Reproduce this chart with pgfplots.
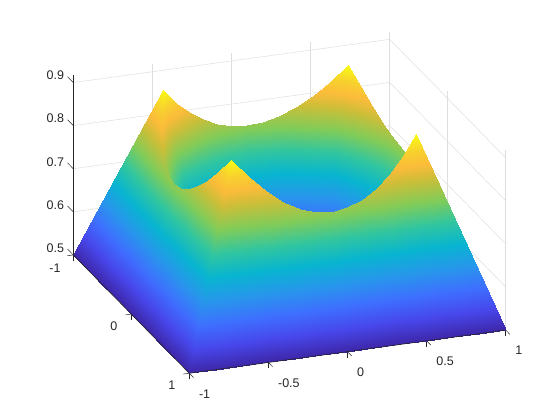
\documentclass[border=0pt]{standalone}
\usepackage{fontspec}
\setmainfont{Liberation Sans}
\usepackage{pgfplots}
\pgfplotsset{compat=1.18}
\definecolor{axisgray}{rgb}{0.15,0.15,0.15}
\definecolor{gridgray}{rgb}{0.87,0.87,0.87}
\pgfplotsset{colormap={parula}{rgb(0pt)=(.2422,.1504,.6603) rgb(111pt)=(.2803,.2782,.9221) rgb(222pt)=(.2440,.4358,.9988) rgb(333pt)=(.1540,.5902,.9218) rgb(444pt)=(.0297,.7082,.8163) rgb(556pt)=(.1938,.7758,.6251) rgb(667pt)=(.5044,.7993,.3480) rgb(778pt)=(.80,.745,.22) rgb(850pt)=(.985,.735,.23) rgb(920pt)=(.97,.82,.18) rgb(1000pt)=(.9769,.9839,.0805)}}
\begin{document}
\begin{tikzpicture}
\path[use as bounding box] (0,0) rectangle (560pt,420pt);
% y runs towards the viewer in the reference, so the y vector points away and the labels are flipped
\begin{axis}[anchor=origin,at={(289.5pt,127.5pt)},
x={(158.2pt,21.6pt)},y={(-58pt,59.15pt)},z={(0pt,431pt)},
xmin=-1,xmax=1,ymin=-1,ymax=1,zmin=0.5,zmax=0.918,
xtick={-1,-0.5,0,0.5,1},xticklabels={-1,-0.5,0,0.5,1},
ytick={-1,0,1},yticklabels={1,0,-1},
ztick={0.5,0.6,0.7,0.8,0.9},zticklabels={0.5,0.6,0.7,0.8,0.9},
tick label style={font=\fontsize{12.5}{14}\selectfont,text=axisgray},
x tick label style={anchor=north west,xshift=2pt,yshift=-8.5pt},
y tick label style={xshift=-4.5pt,yshift=-3.5pt},
z tick label style={xshift=-1.5pt,yshift=-1.5pt},
tick align=outside,major tick length=6pt,tick style={axisgray,line width=0.5pt},
z tick style={draw=none},
xtick pos=left,ytick pos=left,zticklabel pos=left,
grid=major,grid style={gridgray,line width=0.5pt},
axis line style={draw=none},
clip=false,point meta min=0.5,point meta max=0.918,colormap name=parula]
% inner wall seen through the hole: left side, far side, then right side
\addplot3[surf,shader=interp,z buffer=default,mesh/rows=34,mesh/cols=2] table {
x y z
-0.694 -0.293 0.821
-0.486 -0.205 0.580
-0.714 -0.195 0.802
-0.500 -0.137 0.580
-0.726 -0.098 0.792
-0.508 -0.068 0.580
-0.730 0.000 0.788
-0.511 0.000 0.580
-0.726 0.098 0.792
-0.508 0.068 0.580
-0.714 0.195 0.802
-0.500 0.137 0.580
-0.694 0.293 0.821
-0.486 0.205 0.580
-0.666 0.390 0.846
-0.466 0.273 0.580
-0.629 0.488 0.878
-0.440 0.341 0.580
-0.585 0.585 0.918
-0.410 0.410 0.580
-0.488 0.629 0.878
-0.341 0.440 0.580
-0.390 0.666 0.846
-0.273 0.466 0.580
-0.293 0.694 0.821
-0.205 0.486 0.580
-0.195 0.714 0.802
-0.137 0.500 0.580
-0.098 0.726 0.792
-0.068 0.508 0.580
0.000 0.730 0.788
0.000 0.511 0.580
0.098 0.726 0.792
0.068 0.508 0.580
0.195 0.714 0.802
0.137 0.500 0.580
0.293 0.694 0.821
0.205 0.486 0.580
0.390 0.666 0.846
0.273 0.466 0.580
0.488 0.629 0.878
0.341 0.440 0.580
0.585 0.585 0.918
0.410 0.410 0.580
0.629 0.488 0.878
0.440 0.341 0.580
0.666 0.390 0.846
0.466 0.273 0.580
0.694 0.293 0.821
0.486 0.205 0.580
0.714 0.195 0.802
0.500 0.137 0.580
0.726 0.098 0.792
0.508 0.068 0.580
0.730 0.000 0.788
0.511 0.000 0.580
0.726 -0.098 0.792
0.508 -0.068 0.580
0.714 -0.195 0.802
0.500 -0.137 0.580
0.694 -0.293 0.821
0.486 -0.205 0.580
0.666 -0.390 0.846
0.466 -0.273 0.580
0.629 -0.488 0.878
0.440 -0.341 0.580
0.585 -0.585 0.918
0.410 -0.410 0.580
};
% outer slopes facing the viewer: left side, then near side
\addplot3[surf,shader=interp,z buffer=default,mesh/rows=25,mesh/cols=2] table {
x y z
-1.000 1.000 0.500
-0.585 0.585 0.918
-1.000 0.833 0.500
-0.629 0.488 0.878
-1.000 0.667 0.500
-0.666 0.390 0.846
-1.000 0.500 0.500
-0.694 0.293 0.821
-1.000 0.333 0.500
-0.714 0.195 0.802
-1.000 0.167 0.500
-0.726 0.098 0.792
-1.000 0.000 0.500
-0.730 0.000 0.788
-1.000 -0.167 0.500
-0.726 -0.098 0.792
-1.000 -0.333 0.500
-0.714 -0.195 0.802
-1.000 -0.500 0.500
-0.694 -0.293 0.821
-1.000 -0.667 0.500
-0.666 -0.390 0.846
-1.000 -0.833 0.500
-0.629 -0.488 0.878
-1.000 -1.000 0.500
-0.585 -0.585 0.918
-0.833 -1.000 0.500
-0.488 -0.629 0.878
-0.667 -1.000 0.500
-0.390 -0.666 0.846
-0.500 -1.000 0.500
-0.293 -0.694 0.821
-0.333 -1.000 0.500
-0.195 -0.714 0.802
-0.167 -1.000 0.500
-0.098 -0.726 0.792
0.000 -1.000 0.500
0.000 -0.730 0.788
0.167 -1.000 0.500
0.098 -0.726 0.792
0.333 -1.000 0.500
0.195 -0.714 0.802
0.500 -1.000 0.500
0.293 -0.694 0.821
0.667 -1.000 0.500
0.390 -0.666 0.846
0.833 -1.000 0.500
0.488 -0.629 0.878
1.000 -1.000 0.500
0.585 -0.585 0.918
};
\draw[axisgray,line width=0.6pt] (axis cs:-1,1,0.5)--(axis cs:-1,1,0.918);
\draw[axisgray,line width=0.6pt] (axis cs:-1,1,0.5)--(axis cs:-1,-1,0.5)--(axis cs:1,-1,0.5);
\pgfplotsinvokeforeach{0.5,0.6,0.7,0.8,0.9}{\draw[axisgray,line width=0.5pt] (axis cs:-1,1,#1)--(axis cs:-1,1.1,#1);}
\end{axis}
\end{tikzpicture}
\end{document}
